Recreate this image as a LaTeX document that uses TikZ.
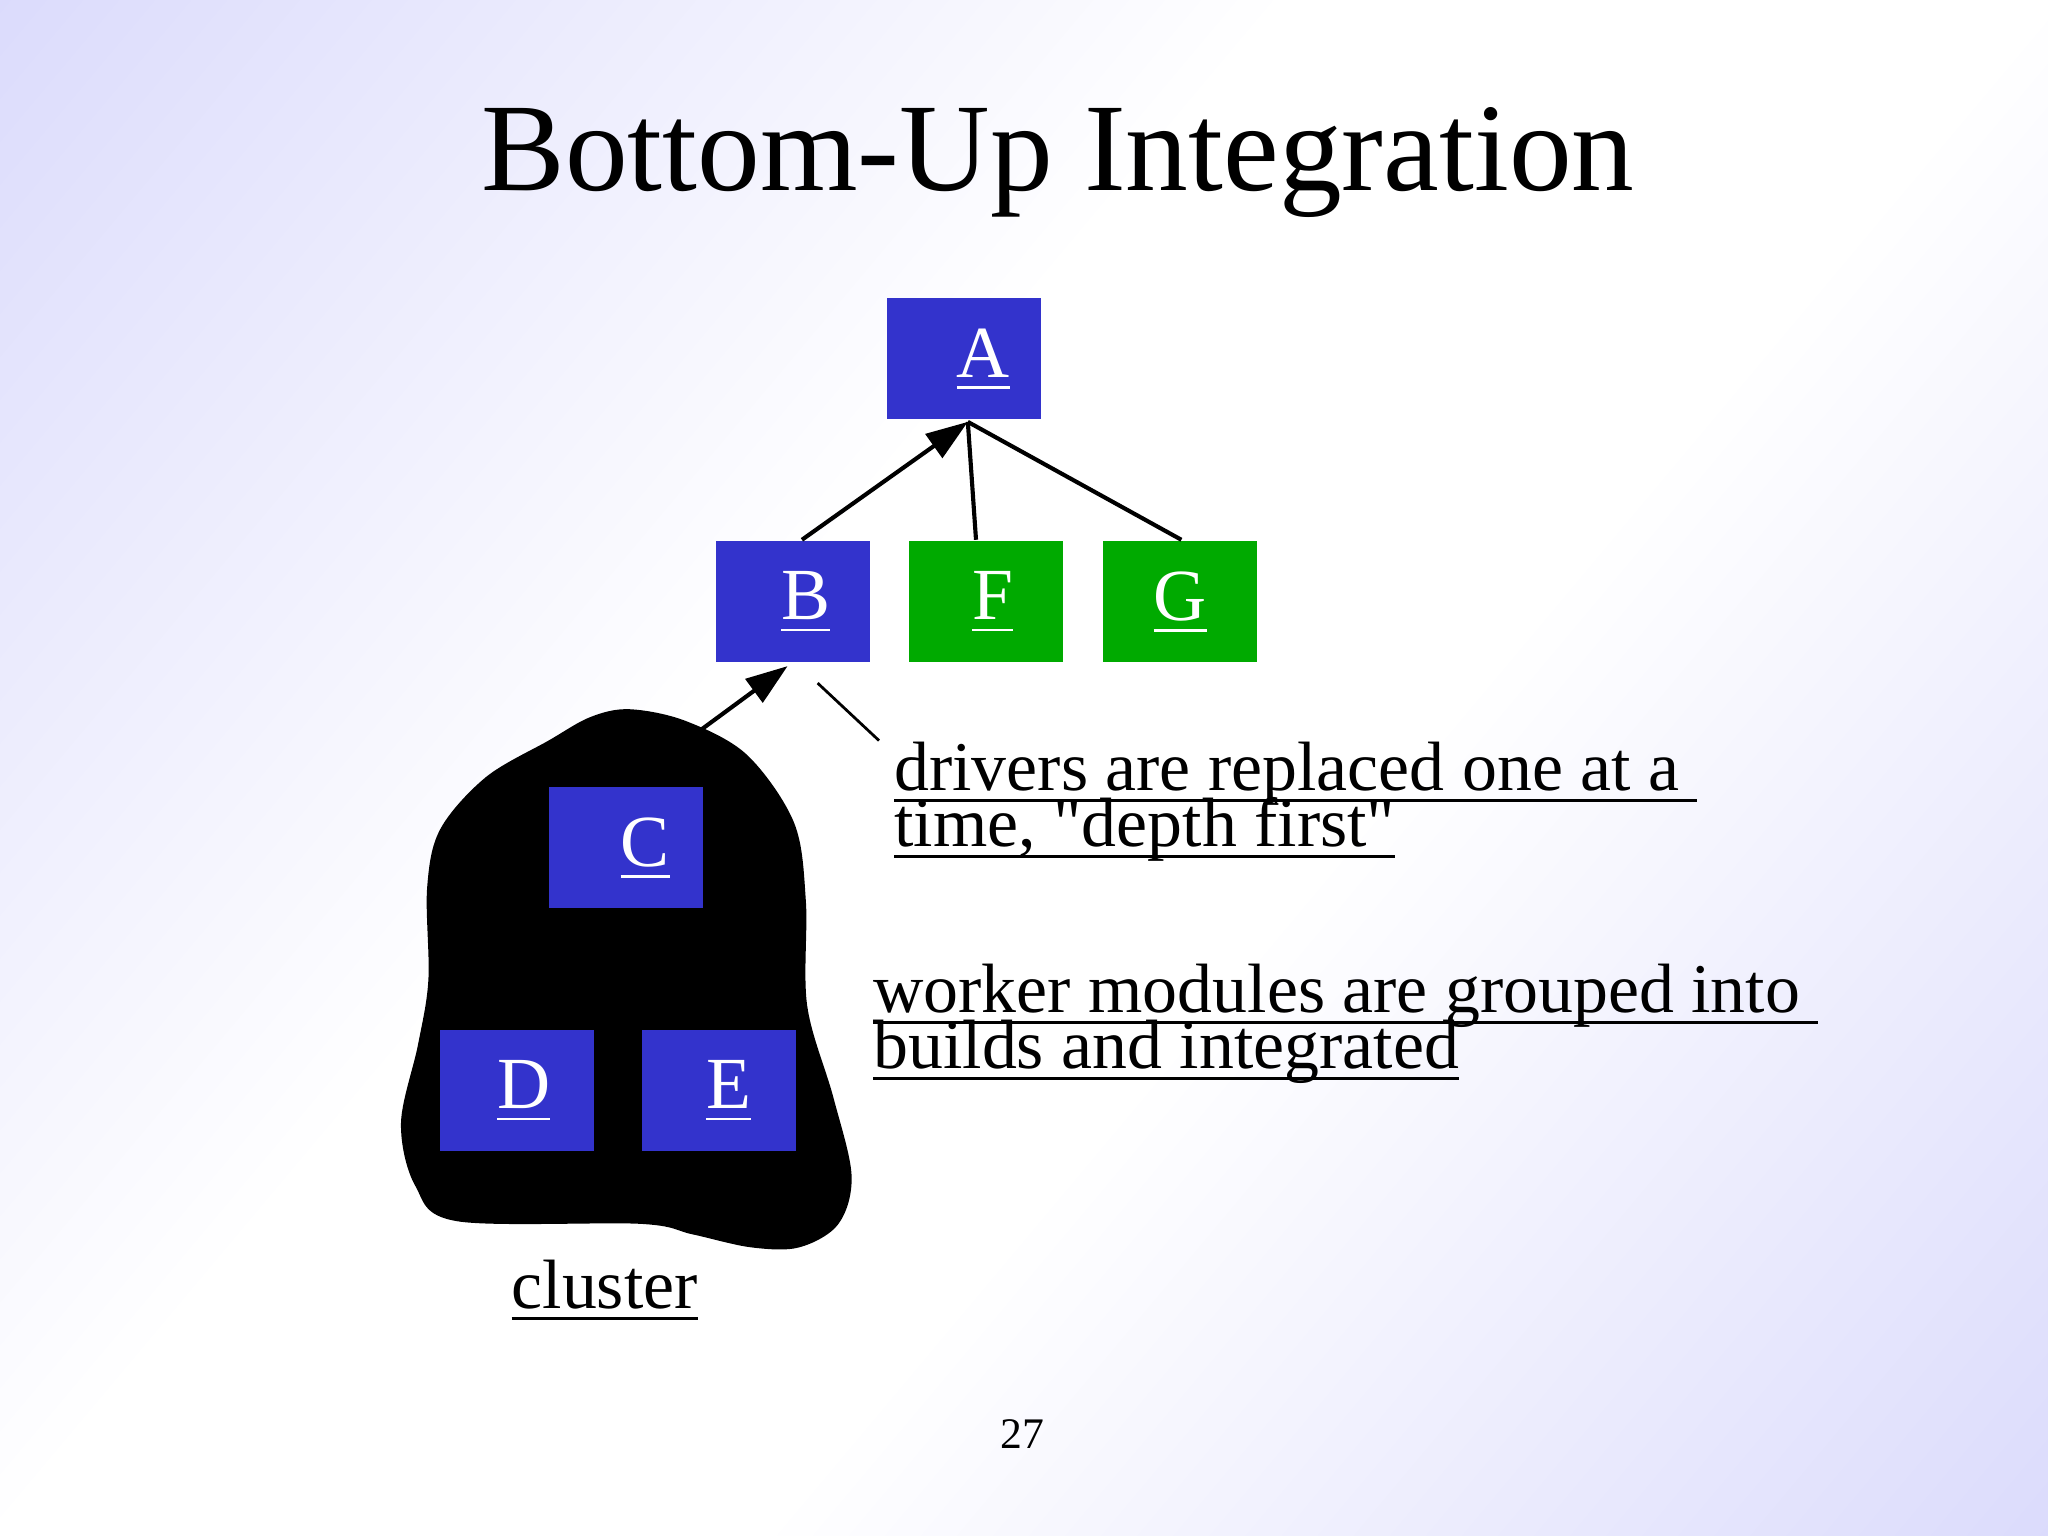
\documentclass[tikz,border=0pt]{standalone}
\usepackage{fontspec}
\setmainfont{Liberation Serif}
\usetikzlibrary{arrows.meta}
\definecolor{boxblue}{RGB}{51,51,204}
\definecolor{boxgreen}{RGB}{0,170,0}
\definecolor{lav}{RGB}{200,200,250}
\pgfdeclarehorizontalshading{bgshade}{100bp}{color(0bp)=(lav); color(42bp)=(white); color(58bp)=(white); color(100bp)=(lav)}
\newsavebox{\mybox}
\newcommand\myul[1]{\sbox{\mybox}{#1}\rlap{\usebox{\mybox}}\rule[-2.5pt]{\wd\mybox}{0.6pt}}
\tikzset{
  mod/.style={draw=none,fill=boxblue,minimum width=1.18cm,minimum height=0.93cm,inner sep=0,
    text=white,font=\fontsize{16}{18}\selectfont},
  gmod/.style={mod,fill=boxgreen},
  lbl/.style={anchor=base west,inner sep=0,font=\fontsize{15.2}{17}\selectfont},
  edge/.style={line width=0.9pt},
  arr/.style={edge,-{Triangle[length=0.32cm,width=0.22cm]}}
}
\newcommand\boxlbl[1]{\raisebox{-0.14cm}{\myul{#1}}}
\begin{document}
\begin{tikzpicture}[x=0.01cm,y=-0.01cm]
\useasboundingbox (0,0) rectangle (1568,1176);
\shade[shading=bgshade,shading angle=-40] (0,0) rectangle (1568,1176);
\node[anchor=base,inner sep=0,font=\fontsize{27.3}{30}\selectfont] (title) at (810,146) {Bottom-Up Integration};
% cluster blob
\fill[black] plot[smooth cycle,tension=0.55] coordinates {(482,543) (525,552) (572,578) (608,630) (617,690) (618,770) (638,840) (652,900) (642,937) (612,955) (575,955) (530,945) (490,937) (350,935) (318,908) (307,860) (320,800) (328,750) (327,680) (337,635) (372,595) (420,567) (452,549)};
\node[mod] (A) at (738,274.5) {\hspace{0.3cm}\boxlbl{A}};
\node[mod] (B) at (607,460.5) {\hspace{0.2cm}\boxlbl{B}};
\node[gmod] (F) at (755,460.5) {\hspace{0.1cm}\boxlbl{F}};
\node[gmod] (G) at (903.5,460.5) {\boxlbl{G}};
\node[mod] (C) at (479,649) {\hspace{0.3cm}\boxlbl{C}};
\node[mod] (D) at (396,835) {\hspace{0.1cm}\boxlbl{D}};
\node[mod] (E) at (550.5,835) {\hspace{0.15cm}\boxlbl{E}};
\coordinate (Atip) at (741,323);
\coordinate (Btip) at (603,510);
\draw[arr] ([xshift=0.07cm]B.north) -- (Atip);
\draw[edge] (F.north west) ++(52,0) -- (Atip);
\draw[edge] (G.north) ++(1,0) -- (Atip);
\coordinate (cl) at (535,560);
\draw[arr] (cl) -- (Btip);
\coordinate (c1) at (626,523);
\coordinate (c2) at (673,567);
\draw[line width=0.6pt] (c1) -- (c2);
\node[lbl] (t1) at (684,605) {\myul{drivers are replaced one at a\ }};
\node[lbl] (t2) at (684,648) {\myul{time, \textquotedbl depth first\textquotedbl}};
\node[lbl] (t3) at (668,775) {\myul{worker modules are grouped into\ }};
\node[lbl] (t4) at (668,818) {\myul{builds and integrated}};
\node[lbl] (t5) at (391,1002) {\myul{cluster}};
\node[anchor=base,inner sep=0,font=\fontsize{9.5}{11}\selectfont] (pg) at (783,1109) {27};
\end{tikzpicture}
\end{document}
